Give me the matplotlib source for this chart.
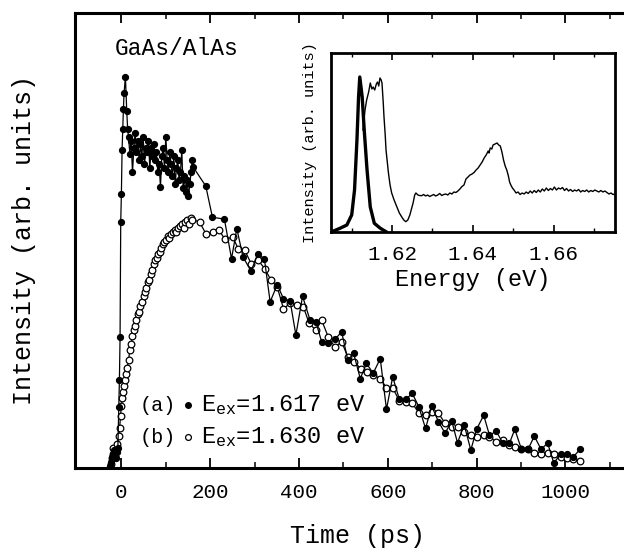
import matplotlib
matplotlib.use('Agg')
import matplotlib.pyplot as plt

plt.rcParams['font.family'] = ['Liberation Mono', 'DejaVu Sans']
plt.rcParams['mathtext.fontset'] = 'custom'
plt.rcParams['mathtext.rm'] = 'Liberation Mono'
plt.rcParams['mathtext.it'] = 'Liberation Mono'
plt.rcParams['mathtext.bf'] = 'Liberation Mono:bold'

# --- main panel: time-resolved PL, (a) Eex=1.617 eV (filled), (b) Eex=1.630 eV (open)
time_a = [-25, -23, -21, -19, -16, -13, -10, -8, -6, -4.5, -3, -1.5, 0, 1.5, 3, 4.5, 6, 9, 12, 14,
          16, 19, 22, 25, 28, 31, 34, 37, 40, 43, 46, 49, 52, 55, 58, 61, 64, 67, 70, 73,
          76, 79, 82, 85, 88, 91, 94, 97, 100, 103, 106, 109, 112, 115, 118, 121, 124, 127, 130, 133,
          136, 139, 142, 145, 148, 151, 154, 157, 160, 162,
          190, 205, 232, 248, 260, 274, 292, 307, 322, 335, 351, 365, 380, 393, 408, 425, 438, 451,
          466, 481, 496, 510, 523, 538, 552, 567, 583, 597, 611, 626, 641, 655, 670, 685, 699, 714,
          729, 744, 757, 772, 787, 800, 816, 829, 844, 859, 874, 886, 901, 916, 930, 945, 960, 974,
          989, 1003, 1018, 1033]
int_a = [0.5, 1.5, 2.8, 3.5, 4.5, 2.5, 4.0, 5.0, 15.3, 22.0, 32.8, 61.6, 68.7, 79.5, 84.8, 89.8, 93.8, 98.0, 89.5, 85.0,
         83.0, 78.7, 82.0, 74.0, 80.0, 84.0, 79.0, 82.0, 77.0, 81.0, 78.0, 83.0, 76.0, 80.0, 79.0, 82.0, 75.0, 80.0, 78.0, 81.0,
         77.0, 79.0, 74.0, 76.0, 70.4, 78.0, 80.0, 75.0, 83.0, 77.0, 74.0, 79.0, 76.0, 73.0, 78.0, 71.0, 75.0, 77.0, 72.0, 74.0,
         79.5, 70.0, 73.0, 69.0, 72.0, 68.0, 71.0, 74.0, 77.2, 75.3,
         70.6, 62.8, 62.3, 52.4, 59.9, 52.8, 49.3, 53.5, 52.4, 41.6, 45.9, 42.4, 41.8, 33.3, 43.0, 37.0, 36.6, 31.6,
         31.2, 32.2, 34.1, 27.0, 28.7, 22.4, 26.2, 23.7, 27.4, 14.7, 22.8, 17.2, 17.2, 18.7, 15.3, 9.9, 15.5, 11.6,
         8.7, 11.8, 6.3, 10.8, 4.5, 9.7, 13.2, 8.2, 9.2, 6.3, 6.2, 9.7, 4.7, 4.7, 8.0, 4.7, 6.2, 1.2,
         3.5, 3.5, 2.8, 4.7]

time_b = [-24, -22, -20, -18, -15, -12, -9, -6, -4, -2, 0, 2, 4, 6, 8, 10, 13, 16, 19, 22,
          25, 28, 31, 34, 37, 40, 43, 46, 50, 53, 56, 60, 63, 66, 70, 73, 76, 80, 83, 86,
          90, 93, 97, 100, 104, 108, 112, 116, 120, 124, 128, 132, 136, 140, 144, 148, 152, 156, 160,
          176, 191, 206, 220, 233, 251, 263, 278, 292, 308, 323, 337, 351, 365, 380, 395, 410, 423, 438,
          451, 466, 481, 496, 510, 524, 539, 553, 567, 583, 597, 611, 626, 641, 655, 670, 685, 699,
          714, 729, 744, 757, 772, 787, 800, 816, 829, 844, 859, 874, 886, 901, 916, 930, 945, 960,
          974, 989, 1003, 1018, 1033]
int_b = [1.0, 2.5, 3.5, 5.0, 3.0, 4.5, 6.0, 8.0, 10.0, 13.0, 15.5, 17.5, 19.0, 20.5, 22.0, 23.5, 25.0, 27.0, 29.5, 31.0,
         33.0, 34.5, 35.5, 37.0, 38.5, 39.0, 40.5, 41.5, 43.0, 44.0, 45.0, 46.5, 47.0, 48.5, 49.5, 51.0, 52.0, 52.5, 53.5, 54.0,
         55.0, 56.0, 56.5, 57.0, 58.0, 57.5, 58.5, 59.0, 59.5, 59.0, 60.0, 60.5, 61.0, 60.0, 61.5, 62.0, 61.0, 62.5, 62.2,
         61.6, 58.5, 59.1, 59.5, 57.3, 57.8, 54.9, 54.5, 51.2, 52.0, 49.9, 47.0, 45.3, 39.9, 41.2, 40.8, 40.3, 36.2, 34.5,
         37.0, 32.8, 30.3, 31.6, 27.8, 26.6, 24.9, 24.1, 23.3, 22.4, 20.1, 20.1, 16.8, 16.6, 16.2, 13.8, 13.3, 14.1,
         13.7, 11.2, 10.3, 10.2, 9.1, 8.3, 7.8, 8.3, 7.8, 6.6, 7.0, 5.8, 5.3, 4.7, 4.7, 3.8, 3.5, 3.8,
         3.5, 2.8, 2.4, 2.2, 1.8]

time_ticks = [0, 200, 400, 600, 800, 1000]

# --- inset: PL spectra
e_laser = [1.6051, 1.6071, 1.6088, 1.6100, 1.6107, 1.6113, 1.6117, 1.6120, 1.6126, 1.6131,
           1.6138, 1.6146, 1.6156, 1.6171, 1.6185]
pl_laser = [0.3, 3.7, 7, 17, 42, 92, 135, 155, 135, 102, 62, 25, 8.7, 3.7, 0.3]

e_pl = [1.6128, 1.6133, 1.6137, 1.6142, 1.6146, 1.6150, 1.6153, 1.6157, 1.6161, 1.6164,
        1.6167, 1.6170, 1.6173, 1.6175, 1.6178, 1.6180, 1.6183, 1.6185, 1.6188, 1.6191,
        1.6195, 1.6199, 1.6205, 1.6212, 1.6218, 1.6224, 1.6229, 1.6234, 1.6239, 1.6244,
        1.6248, 1.6252, 1.6256, 1.6259, 1.6264, 1.6268, 1.6273, 1.6278, 1.6283, 1.6288,
        1.6293, 1.6298, 1.6303, 1.6308, 1.6313, 1.6318, 1.6323, 1.6328, 1.6333, 1.6338,
        1.6343, 1.6348, 1.6353, 1.6358, 1.6363, 1.6368, 1.6373, 1.6378, 1.6383, 1.6388,
        1.6393, 1.6398, 1.6403, 1.6408, 1.6413, 1.6418, 1.6423, 1.6428, 1.6433, 1.6438,
        1.6440, 1.6443, 1.6447, 1.6450, 1.6455, 1.6460, 1.6464, 1.6468, 1.6472, 1.6476,
        1.6480, 1.6484, 1.6488, 1.6491, 1.6494, 1.6498, 1.6502, 1.6507, 1.6512, 1.6517,
        1.6522, 1.6527, 1.6532, 1.6537, 1.6542, 1.6547, 1.6552, 1.6557, 1.6562, 1.6567,
        1.6572, 1.6577, 1.6582, 1.6587, 1.6592, 1.6597, 1.6602, 1.6607, 1.6612, 1.6617,
        1.6622, 1.6627, 1.6632, 1.6637, 1.6642, 1.6647, 1.6652, 1.6657, 1.6662, 1.6667,
        1.6672, 1.6677, 1.6682, 1.6687, 1.6692, 1.6697, 1.6702, 1.6707, 1.6712, 1.6717,
        1.6722, 1.6727, 1.6732, 1.6737, 1.6742, 1.6747, 1.6752]
pl_int = [102, 122, 132, 140, 149, 143, 145, 142, 148, 150,
          146, 154, 152, 149, 130, 115, 97, 82, 70, 59,
          47, 39, 32, 25, 19, 15, 12, 10.3, 12, 17,
          23, 29, 37, 39, 37, 36.5, 36.3, 37.5, 36, 37,
          35.5, 36.5, 37.5, 36, 37, 38.5, 36.5, 37.5, 38, 37,
          39, 38, 40, 39.5, 41, 43, 45.5, 47, 53, 55,
          57, 58, 59.5, 62, 64, 67, 70, 74, 77, 81,
          79, 84, 83, 87, 88, 89, 87, 86, 80, 72,
          66, 62, 56, 50, 47, 44, 42, 39, 40, 37.5,
          39, 38, 40, 38.5, 41, 39, 41.5, 39.5, 42, 40,
          43, 41, 44, 41.5, 43.5, 42, 45, 42, 44, 43,
          44.5, 41.5, 43.5, 41, 42.5, 40.5, 42, 41, 42.5, 40,
          41.5, 40.5, 42, 40, 41.5, 40.5, 42, 41, 40, 41.5,
          40, 41, 39.5, 38, 39, 37.5, 38]
energy_ticks = [1.62, 1.64, 1.66]

fig = plt.figure(figsize=(6.24, 5.54), dpi=100)
ax = fig.add_axes([75 / 624, 86 / 554, 565 / 624, 455.3 / 554])

ax.plot(time_b, int_b, color='black', lw=0.9, marker='o', ms=4.8, mfc='white', mec='black', mew=0.9, zorder=2)
ax.plot(time_a, int_a, color='black', lw=0.9, marker='o', ms=4.2, mfc='black', mec='black', zorder=3)

ax.set_xlim(-104.5, 1168)
ax.set_ylim(0, 114)
ax.set_xticks(time_ticks)
ax.set_xticks([100, 300, 500, 700, 900, 1100], minor=True)
ax.set_yticks([])
ax.tick_params(axis='x', which='both', direction='in', top=True, labelsize=15, pad=11)
ax.tick_params(axis='x', which='major', length=7, width=1.3)
ax.tick_params(axis='x', which='minor', length=4, width=1.1)
for s in ax.spines.values():
    s.set_linewidth(2.2)
ax.set_xlabel('Time (ps)', fontsize=18, labelpad=16)
ax.set_ylabel('Intensity (arb. units)', fontsize=18, labelpad=28)

ax.text(0.071, 0.922, 'GaAs/AlAs', transform=ax.transAxes, fontsize=16.5, ha='left', va='center')

# legend drawn as text rows
ax.text(0.115, 0.138, '(a)', transform=ax.transAxes, fontsize=14.5, ha='left', va='center')
ax.plot([0.2], [0.138], transform=ax.transAxes, marker='o', ms=4, color='black', ls='none')
ax.text(0.223, 0.138, r'E$_{\mathrm{ex}}$=1.617 eV', transform=ax.transAxes, fontsize=17, ha='left', va='center')
ax.text(0.115, 0.068, '(b)', transform=ax.transAxes, fontsize=14.5, ha='left', va='center')
ax.plot([0.2], [0.068], transform=ax.transAxes, marker='o', ms=4.2, mfc='white', mec='black', mew=0.9, ls='none')
ax.text(0.223, 0.068, r'E$_{\mathrm{ex}}$=1.630 eV', transform=ax.transAxes, fontsize=17, ha='left', va='center')

# inset
ins = fig.add_axes([330.7 / 624, 322 / 554, 284.3 / 624, 179.3 / 554])
ins.plot(e_laser, pl_laser, color='black', lw=2.4)
ins.plot(e_pl, pl_int, color='black', lw=1.0)
ins.set_xlim(1.6048, 1.6752)
ins.set_ylim(0, 179.3)
ins.set_xticks(energy_ticks)
ins.set_xticklabels(['1.62', '1.64', '1.66'])
ins.set_xticks([1.61, 1.63, 1.65, 1.67], minor=True)
ins.set_yticks([])
ins.tick_params(axis='x', which='both', direction='in', top=True, labelsize=15, pad=9)
ins.tick_params(axis='x', which='major', length=5, width=1.2)
ins.tick_params(axis='x', which='minor', length=3, width=1.0)
for s in ins.spines.values():
    s.set_linewidth(2.0)
ins.set_xlabel('Energy (eV)', fontsize=17, labelpad=3)
ins.set_ylabel('Intensity (arb. units)', fontsize=11, labelpad=10)

fig.savefig('out.png', dpi=100)
